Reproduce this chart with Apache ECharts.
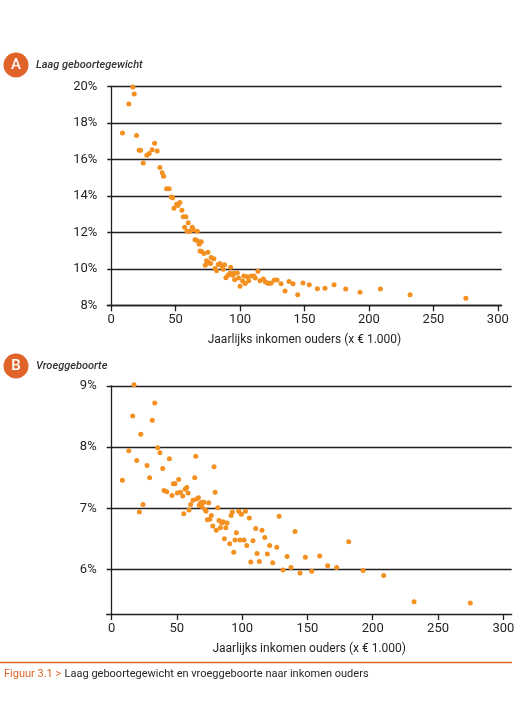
<!DOCTYPE html>
<html>
<head>
<meta charset="utf-8">
<script src="https://cdn.jsdelivr.net/npm/echarts@6/dist/echarts.min.js"></script>
<style>
  html, body { margin: 0; padding: 0; background: #fff; }
  #main { width: 522px; height: 705px; }
</style>
</head>
<body>
<div id="main"></div>
<script>
// Figuur 3.1 - laag geboortegewicht en vroeggeboorte naar inkomen ouders

// A: laag geboortegewicht (%)
var incomeA = [8.8, 13.7, 16.8, 17.9, 19.7, 21.7, 22.8, 24.9, 27.7, 29.5, 31.8, 33.7, 35.7, 37.8, 39.6, 40.7,
    43, 45, 46.6, 47.7, 48.7, 50.8, 51.8, 53.3, 54.9, 55.9, 58, 57, 59.8, 58.8, 61.1, 62.9, 63.7, 66.8,
    65, 66.3, 67.9, 68.3, 69.9, 68.9, 70.2, 72, 75.1, 73, 74, 76, 77.2, 77.6, 79.7, 80.7, 81.8, 83, 84.4,
    86, 87, 88, 89, 90.6, 92.2, 92.7, 94.3, 95.8, 95.3, 97.8, 98.9, 100, 102, 103, 104, 105.6, 106.7,
    108.7, 110.8, 111.8, 113.9, 115.5, 118, 119.6, 121.1, 122.7, 124.2, 126.6, 128.7, 131.8, 134.9,
    138, 141.1, 144.7, 148.8, 153.7, 160, 165.9, 172.9, 182, 193.1, 208.9, 231.9, 275.2];
var lowWeight = [17.44, 19.03, 19.96, 19.58, 17.3, 16.5, 16.5, 15.8, 16.22, 16.32, 16.53, 16.88, 16.46, 15.55, 15.26, 15.07,
    14.38, 14.38, 13.94, 13.9, 13.32, 13.54, 13.47, 13.63, 13.21, 12.85, 12.85, 12.28, 12.52, 12.06, 12.06, 12.28, 12.12, 12.06,
    11.59, 11.57, 11.48, 11.35, 11.48, 10.98, 10.95, 10.84, 10.91, 10.19, 10.44, 10.33, 10.29, 10.62, 10.55, 10.02, 9.89, 10.24, 10.29,
    10.15, 9.98, 10.22, 9.51, 9.64, 9.75, 10.09, 9.64, 9.4, 9.75, 9.77, 9.49, 9.05, 9.33, 9.6, 9.2, 9.56, 9.34,
    9.6, 9.6, 9.49, 9.87, 9.34, 9.44, 9.29, 9.22, 9.2, 9.22, 9.38, 9.38, 9.18, 8.78,
    9.31, 9.18, 8.58, 9.22, 9.13, 8.91, 8.94, 9.13, 8.89, 8.71, 8.89, 8.58, 8.38];

// B: vroeggeboorte (%)
var incomeB = [8.3, 13.2, 16.2, 17.2, 19.3, 21.3, 22.4, 24.1, 27.2, 29.2, 31.2, 33.1, 35.4, 37.1, 39.2, 40.2, 42.3,
    44.3, 46.3, 47.3, 48.6, 50.4, 51.4, 52.7, 54.5, 55.3, 56.3, 57.6, 58.6, 59.3, 60.6, 62.4, 63.7, 64.5, 65.2,
    66.5, 67.2, 68.5, 69.8, 70.8, 67.8, 69, 71.6, 72.4, 73.4, 74.4, 75.2, 76.4, 77.5, 78.5, 79.3, 80.2, 81.3,
    82.3, 83.3, 84.4, 85.4, 86.4, 87.5, 88.4, 90.5, 91.5, 92.5, 93.6, 94.6, 95.6, 97.4, 98.4, 99.4, 101.5,
    102.5, 103.5, 105.5, 106.6, 108.3, 110.4, 111.4, 113.2, 115.2, 117.3, 119.3, 121.1, 123.4, 126.5, 128.3,
    131.3, 134.4, 137.4, 140.5, 144.3, 148.4, 153.3, 159.4, 165.5, 172.4, 181.6, 192.6, 208.4, 231.6, 274.7];
var preterm = [7.46, 7.94, 8.51, 9.02, 7.78, 6.94, 8.21, 7.06, 7.7, 7.5, 8.44, 8.72, 7.99, 7.91, 7.65, 7.29, 7.27,
    7.81, 7.21, 7.4, 7.4, 7.25, 7.47, 7.26, 7.2, 6.91, 7.31, 7.34, 7.25, 6.97, 7.06, 7.13, 7.5, 7.85, 7.15,
    7.17, 7.05, 7.09, 7.1, 7.1, 7.07, 7.03, 6.98, 6.95, 6.81, 7.09, 6.82, 6.88, 6.71, 7.68, 7.26, 6.64, 7.01,
    6.8, 6.68, 6.76, 6.78, 6.5, 6.68, 6.76, 6.42, 6.88, 6.94, 6.28, 6.48, 6.6, 6.95, 6.48, 6.9, 6.48,
    6.95, 6.39, 6.84, 6.12, 6.47, 6.67, 6.26, 6.13, 6.64, 6.52, 6.25, 6.39, 6.11, 6.36, 6.87,
    5.99, 6.21, 6.03, 6.62, 5.94, 6.2, 5.97, 6.22, 6.06, 6.03, 6.45, 5.98, 5.9, 5.47, 5.45];

var xTicks = [0, 50, 100, 150, 200, 250, 300];
var yTicksA = [8, 10, 12, 14, 16, 18, 20];
var yTicksB = [6, 7, 8, 9];

var titleA = 'Laag geboortegewicht';
var titleB = 'Vroeggeboorte';
var xName = 'Jaarlijks inkomen ouders (x \u20ac 1.000)';
var caption = 'Laag geboortegewicht en vroeggeboorte naar inkomen ouders';

var orange = '#e0632a';
var dotColor = '#f39020';
var ink = '#231f20';
var font = 'Roboto';

function pairs(xs, ys) {
    return xs.map(function (x, i) { return [x, ys[i]]; });
}

function xAxisFor(gridIndex, min, max) {
    return {
        type: 'value',
        gridIndex: gridIndex,
        min: min,
        max: max,
        name: xName,
        nameLocation: 'middle',
        nameGap: 29,
        nameTextStyle: { color: ink, fontSize: 12, fontFamily: font },
        axisLine: { lineStyle: { color: ink, width: 1.3 } },
        axisTick: { show: true, length: 6, customValues: xTicks, lineStyle: { color: ink, width: 1.3 } },
        axisLabel: { customValues: xTicks, color: ink, fontSize: 13, fontFamily: font, margin: 8 },
        splitLine: { show: false }
    };
}

function yAxisFor(gridIndex, min, max, ticks) {
    return {
        type: 'value',
        gridIndex: gridIndex,
        min: min,
        max: max,
        axisLine: { show: true, lineStyle: { color: ink, width: 1.3 } },
        axisTick: { show: false, customValues: ticks },
        axisLabel: {
            customValues: ticks,
            color: ink, fontSize: 13, fontFamily: font, margin: 10,
            formatter: function (v) { return v + '%'; }
        },
        splitLine: { show: true, lineStyle: { color: ink, width: 1.3 } }
    };
}

function badge(letter, cy, title) {
    return [
        { type: 'circle', shape: { cx: 16, cy: cy, r: 12.5 }, style: { fill: orange } },
        { type: 'text', x: 16, y: cy, style: { text: letter, fill: '#fff', font: '500 15px ' + font, align: 'center', verticalAlign: 'middle' } },
        { type: 'text', x: 36, y: cy, style: { text: title, fill: '#333', font: 'italic 500 11px ' + font, verticalAlign: 'middle' } }
    ];
}

var chart = echarts.init(document.getElementById('main'));

var option = {
    backgroundColor: '#fff',
    animation: false,
    grid: [
        { left: 107.3, right: 20.3, top: 86.3, bottom: 399.7 },
        { left: 106.7, right: 10.3, top: 386, bottom: 91 }
    ],
    xAxis: [
        xAxisFor(0, -3, 303),
        xAxisFor(1, -3.7, 306.4)
    ],
    yAxis: [
        yAxisFor(0, 8, 20, yTicksA),
        yAxisFor(1, 5.27, 9, yTicksB)
    ],
    series: [
        {
            type: 'scatter', xAxisIndex: 0, yAxisIndex: 0,
            symbolSize: 5, clip: false,
            itemStyle: { color: dotColor, opacity: 1 },
            data: pairs(incomeA, lowWeight)
        },
        {
            type: 'scatter', xAxisIndex: 1, yAxisIndex: 1,
            symbolSize: 5, clip: false,
            itemStyle: { color: dotColor, opacity: 1 },
            data: pairs(incomeB, preterm)
        }
    ],
    graphic: badge('A', 65, titleA).concat(badge('B', 366, titleB)).concat([
        { type: 'line', shape: { x1: 0, y1: 662.5, x2: 512, y2: 662.5 }, style: { stroke: orange, lineWidth: 1.3 } },
        {
            type: 'text', x: 4, y: 674,
            style: {
                text: '{o|Figuur 3.1 >} {t|' + caption + '}',
                verticalAlign: 'middle',
                rich: {
                    o: { fill: orange, font: '11px ' + font },
                    t: { fill: ink, font: '11px ' + font }
                }
            }
        }
    ])
};

chart.setOption(option);
</script>
</body>
</html>
